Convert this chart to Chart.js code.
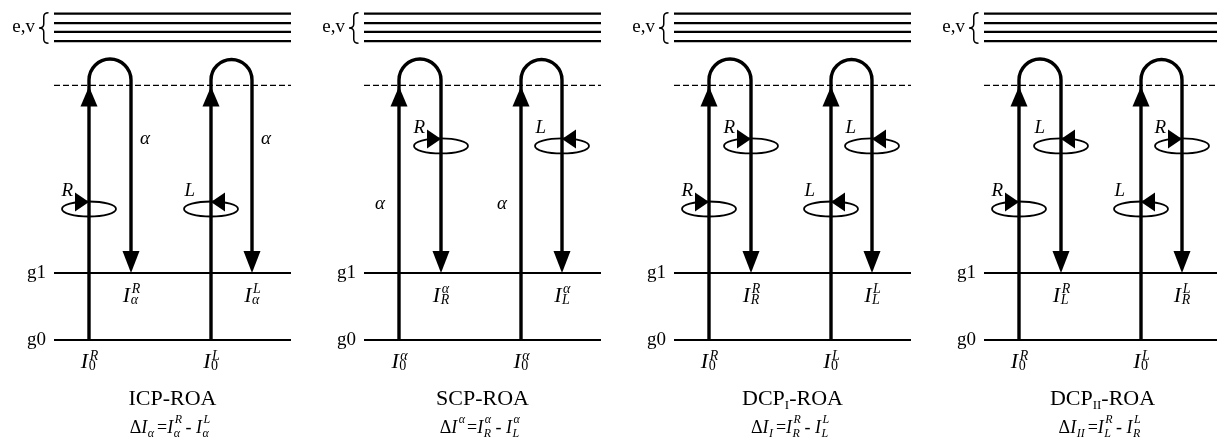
<!DOCTYPE html>
<html>
<head>
<meta charset="utf-8">
<title>ROA energy-level schemes</title>
<script src="https://cdn.jsdelivr.net/npm/chart.js@4.4.1/dist/chart.umd.min.js"></script>
<style>
  html, body { margin: 0; padding: 0; background: #ffffff; }
  #frame { position: relative; width: 1217px; height: 439px; }
</style>
</head>
<body>
<div id="frame"><canvas id="roa"></canvas></div>
<script>
// ---- level scheme (energies in units of the g0 -> g1 gap) ----
const groundNames      = ['g0', 'g1'];
const groundLevels     = [0, 1];
const virtualLevel     = 3.8;
const electronicLevels = [4.46, 4.6, 4.73, 4.87];
const turnLevel        = 3.88;          // where each Raman path turns back down

// ---- horizontal layout (diagram units) ----
const panelOrigins = [0, 310, 620, 930];
const levelSpan    = [54, 291];
const incidentX    = [89, 211];         // upward (incident) legs
const scatteredX   = [131, 252];        // downward (scattered) legs

// ---- per-scheme annotations ----
const schemeNames       = ['ICP', 'SCP', 'DCP', 'DCP'];
const schemeIndex       = ['', '', 'I', 'II'];
const incidentPol       = [['R', 'L'], [null, null], ['R', 'L'], ['R', 'L']];
const scatteredPol      = [[null, null], ['R', 'L'], ['R', 'L'], ['L', 'R']];
const linearOnIncident  = [false, true, false, false];
const linearOnScattered = [true, false, false, false];
const incidentSup       = [['R', 'L'], ['α', 'α'], ['R', 'L'], ['R', 'L']];
const scatteredSup      = [['R', 'L'], ['α', 'α'], ['R', 'L'], ['R', 'L']];
const scatteredSub      = [['α', 'α'], ['R', 'L'], ['R', 'L'], ['L', 'R']];
const deltaSub          = ['α', '', 'I', 'II'];
const deltaSup          = ['', 'α', '', ''];

// heights at which the polarization marks sit on the legs
const incidentMarkLevel   = 1.955;
const scatteredMarkLevel  = 2.896;
const incidentAlphaLevel  = 2.03;
const scatteredAlphaLevel = 3.0;

const SERIF = '"Liberation Serif", "Times New Roman", serif';
const F = (size, italic) => (italic ? 'italic ' : '') + size + 'px ' + SERIF;

function levelSet(o, e, width, dash) {
  return {
    data: [{ x: o + levelSpan[0], y: e }, { x: o + levelSpan[1], y: e }],
    showLine: true, pointRadius: 0, borderColor: '#000', borderWidth: width,
    borderDash: dash, borderCapStyle: 'butt', fill: false
  };
}

const datasets = [];
panelOrigins.forEach(o => {
  groundLevels.forEach(e => datasets.push(levelSet(o, e, 2, [])));
  electronicLevels.forEach(e => datasets.push(levelSet(o, e, 2.3, [])));
  datasets.push(levelSet(o, virtualLevel, 1.4, [6, 3]));
});

// text made of pieces: plain runs and stacked super/subscripts
function runWidths(ctx, parts) {
  return parts.map(p => {
    let w;
    if (p.stack) {
      w = Math.max(0, ...p.stack.map(s => { ctx.font = s.font; return ctx.measureText(s.t).width; }));
    } else { ctx.font = p.font; w = ctx.measureText(p.t).width; }
    return w + (p.gap || 0);
  });
}
function drawRun(ctx, parts, cx, base) {
  const widths = runWidths(ctx, parts);
  let xx = cx - widths.reduce((a, b) => a + b, 0) / 2;
  ctx.textAlign = 'left';
  ctx.textBaseline = 'alphabetic';
  parts.forEach((p, i) => {
    if (p.stack) {
      p.stack.forEach(s => { if (s.t) { ctx.font = s.font; ctx.fillText(s.t, xx + (s.dx || 0), base + s.dy); } });
    } else {
      ctx.font = p.font; ctx.fillText(p.t, xx, base + (p.dy || 0));
    }
    xx += widths[i];
  });
}
function intensity(sup, sub, size, script, supDy, subDy) {
  const subItalic = !/^[0-9]$/.test(sub);
  return [
    { t: 'I', font: F(size, true), gap: 0.5 },
    { stack: [
      { t: sup, font: F(script, true), dy: supDy, dx: 1 },
      { t: sub, font: F(script, subItalic), dy: subDy }
    ] }
  ];
}

function arrowHead(ctx, x, tipY, dir, len, half) {
  ctx.beginPath();
  ctx.moveTo(x, tipY);
  ctx.lineTo(x - half, tipY - dir * len);
  ctx.lineTo(x + half, tipY - dir * len);
  ctx.closePath();
  ctx.fill();
}

// left curly brace gathering the electronic/vibrational levels
function brace(ctx, xTip, xEnd, top, bottom) {
  const xm = (xTip + xEnd) / 2, mid = (top + bottom) / 2;
  ctx.lineWidth = 1.5;
  ctx.beginPath();
  ctx.moveTo(xEnd, top);
  ctx.quadraticCurveTo(xm, top, xm, top + 4);
  ctx.lineTo(xm, mid - 4);
  ctx.quadraticCurveTo(xm, mid, xTip, mid);
  ctx.quadraticCurveTo(xm, mid, xm, mid + 4);
  ctx.lineTo(xm, bottom - 4);
  ctx.quadraticCurveTo(xm, bottom, xEnd, bottom);
  ctx.stroke();
}

function polMark(ctx, cx, cy, hand) {
  const rx = 27, ry = 7.5;
  ctx.lineWidth = 1.8;
  ctx.beginPath();
  ctx.ellipse(cx, cy, rx, ry, 0, 0, Math.PI * 2);
  ctx.stroke();
  const ty = cy - ry + 0.5, s = hand === 'R' ? -1 : 1;
  ctx.beginPath();
  ctx.moveTo(cx, ty);
  ctx.lineTo(cx + s * 14, ty - 9.5);
  ctx.lineTo(cx + s * 14, ty + 9.5);
  ctx.closePath();
  ctx.fill();
  ctx.font = F(19, true);
  ctx.textAlign = 'right';
  ctx.textBaseline = 'alphabetic';
  ctx.fillText(hand, cx - 16, cy - 13);
}

function alphaMark(ctx, cx, cy) {
  ctx.font = F(19, true);
  ctx.textAlign = 'center';
  ctx.textBaseline = 'middle';
  ctx.fillText('α', cx, cy);
}

const schemePlugin = {
  id: 'scheme',
  afterDatasetsDraw(chart) {
    const { ctx, scales: { x, y } } = chart;
    const px = v => x.getPixelForValue(v);
    const py = v => y.getPixelForValue(v);
    ctx.save();
    ctx.fillStyle = '#000';
    ctx.strokeStyle = '#000';

    panelOrigins.forEach((o, p) => {
      const g0 = py(groundLevels[0]), g1 = py(groundLevels[1]);
      const evTop = py(electronicLevels[electronicLevels.length - 1]);
      const evBot = py(electronicLevels[0]);
      const evMid = (evTop + evBot) / 2;

      // level names
      ctx.font = F(19, false);
      ctx.textAlign = 'right';
      ctx.textBaseline = 'alphabetic';
      groundLevels.forEach((e, i) => ctx.fillText(groundNames[i], px(o + levelSpan[0] - 8), py(e) + 5));
      ctx.fillText('e,v', px(o + 35), evMid + 5);
      brace(ctx, px(o + 39), px(o + 48.5), evTop - 1, evBot + 2);

      for (let k = 0; k < 2; k++) {
        const xu = px(o + incidentX[k]), xd = px(o + scatteredX[k]);
        const yTurn = py(turnLevel), r = (xd - xu) / 2;

        // Raman path: up from g0, over the virtual state, down to g1
        ctx.lineWidth = 3.4;
        ctx.lineCap = 'butt';
        ctx.beginPath();
        ctx.moveTo(xu, g0);
        ctx.lineTo(xu, yTurn);
        ctx.arc(xu + r, yTurn, r, Math.PI, 0);
        ctx.lineTo(xd, g1 - 12);
        ctx.stroke();
        arrowHead(ctx, xu, py(virtualLevel) + 1, -1, 20, 8.5);
        arrowHead(ctx, xd, g1, 1, 22, 8.5);

        // polarization of incident and scattered light
        if (incidentPol[p][k]) polMark(ctx, xu, py(incidentMarkLevel), incidentPol[p][k]);
        if (scatteredPol[p][k]) polMark(ctx, xd, py(scatteredMarkLevel), scatteredPol[p][k]);
        if (linearOnIncident[p]) alphaMark(ctx, xu - 19, py(incidentAlphaLevel));
        if (linearOnScattered[p]) alphaMark(ctx, xd + 14, py(scatteredAlphaLevel));

        // intensity labels
        drawRun(ctx, intensity(scatteredSup[p][k], scatteredSub[p][k], 22, 14, -9, 2), xd, g1 + 29);
        drawRun(ctx, intensity(incidentSup[p][k], '0', 22, 14, -8, 2), xu, g0 + 28);
      }

      // scheme name and circular-intensity difference
      const cx = px(o + (levelSpan[0] + levelSpan[1]) / 2);
      drawRun(ctx, [
        { t: schemeNames[p], font: F(22, false) },
        { t: schemeIndex[p], font: F(13, false), dy: 4 },
        { t: '-ROA', font: F(22, false) }
      ], cx, g0 + 65);

      const sc = 12;
      drawRun(ctx, [
        { t: 'Δ', font: F(18, false) },
        { t: 'I', font: F(18, true), gap: 0.5 },
        { stack: [
          { t: deltaSup[p], font: F(sc, true), dy: -10, dx: 1 },
          { t: deltaSub[p], font: F(sc, true), dy: 4 }
        ], gap: 3 },
        { t: '=', font: F(18, false) },
        ...intensity(scatteredSup[p][0], scatteredSub[p][0], 18, sc, -10, 4),
        { t: ' - ', font: F(18, false) },
        ...intensity(scatteredSup[p][1], scatteredSub[p][1], 18, sc, -10, 4)
      ], cx - 3, g0 + 93);
    });
    ctx.restore();
  }
};

new Chart(document.getElementById('roa'), {
  type: 'scatter',
  data: { datasets },
  options: {
    responsive: true,
    maintainAspectRatio: false,
    animation: false,
    events: [],
    layout: { padding: 0 },
    plugins: { legend: { display: false }, tooltip: { enabled: false } },
    scales: {
      x: { type: 'linear', display: false, min: 0, max: 1217 },
      y: { type: 'linear', display: false, min: -99 / 67, max: 340 / 67 }
    }
  },
  plugins: [schemePlugin]
});
</script>
</body>
</html>
